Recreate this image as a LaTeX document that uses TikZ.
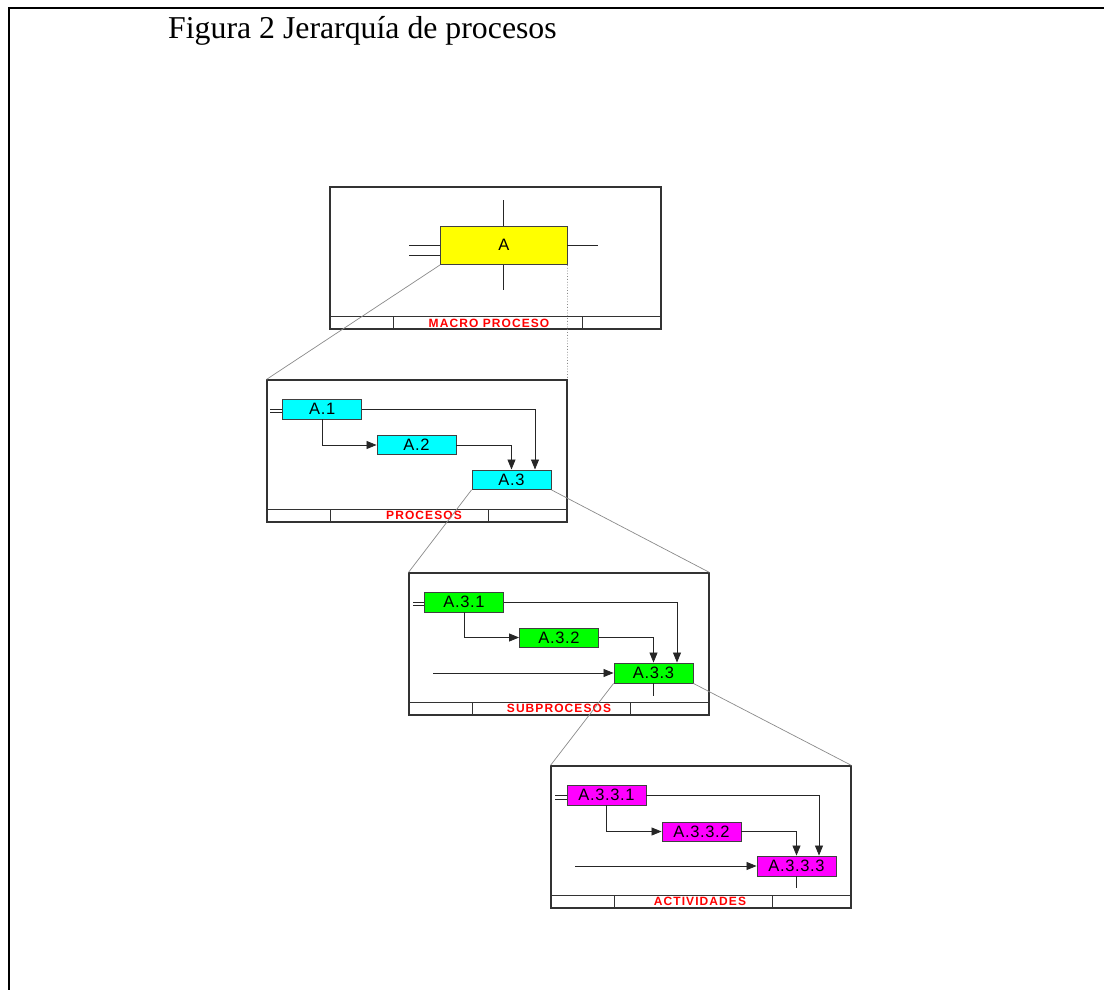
\documentclass[tikz,border=0pt]{standalone}
\usepackage{fontspec}
\setmainfont{Liberation Serif}
\newfontfamily\boxfont[LetterSpace=4]{Liberation Sans}
\newfontfamily\tagfont[LetterSpace=9]{Liberation Sans}
\usetikzlibrary{arrows.meta}
\definecolor{procyellow}{HTML}{FFFF00}
\definecolor{proccyan}{HTML}{00FFFF}
\definecolor{procgreen}{HTML}{00FF00}
\definecolor{procmagenta}{HTML}{FF00FF}
\definecolor{tagred}{HTML}{FF0000}
\definecolor{linkgray}{HTML}{8A8A8A}
\begin{document}
\begin{tikzpicture}[x=1pt,y=-1pt,
  frame/.style={draw=black!80, line width=1.1pt, inner sep=0pt, minimum width=300, minimum height=142},
  pbox/.style={draw=black!75, line width=0.9pt, inner sep=0pt, minimum width=79, minimum height=20,
               font=\boxfont\fontsize{16.5}{16.5}\selectfont},
  tag/.style={text=tagred, inner sep=0pt, font=\tagfont\bfseries\fontsize{12}{12}\selectfont},
  strip/.style={draw=black!80, line width=0.9pt},
  flow/.style={draw=black!85, line width=0.8pt},
  arr/.style={flow, -{Triangle[length=10pt,width=8pt]}},
  link/.style={draw=linkgray, line width=0.7pt},
  dotlink/.style={draw=linkgray, line width=0.8pt, dotted}]
\useasboundingbox (0,0) rectangle (1104,990);

% page frame (top and left edges)
\draw[line width=2.4pt] (9,990) -- (9,8) -- (1104,8);

% caption
\node[anchor=base west, inner sep=0pt, font=\fontsize{31.8}{31.8}\selectfont] (title) at (168,38.3) {Figura 2 Jerarquía de procesos};

% ---------- macro process ----------
\node[frame, minimum width=331] (macro) at (495.5,258) {};
\draw[strip] (330,316.5) -- (661,316.5) (393,316.5) -- (393,329) (582.5,316.5) -- (582.5,329);
\node[tag] (tmacro) at (489,323) {MACRO PROCESO};
\node[pbox, fill=procyellow, minimum width=126.5, minimum height=38.5] (a) at (503.75,245.25) {A};
\draw[flow] (a.north) -- ++(0,-25.5);
\draw[flow] (a.south) -- ++(0,25.5);
\draw[flow] (a.east) -- ++(31,0);
\draw[flow] ([yshift=0.25pt]a.west) -- ++(-31,0);
\draw[flow] ([yshift=-9.75pt]a.west) -- ++(-31,0);

% ---------- processes ----------
\node[frame] (proc) at (417,451) {};
\draw[strip] (267,509) -- (567,509) (330,509) -- (330,522) (488,509) -- (488,522);
\node[tag] (tproc) at (424,515.5) {PROCESOS};
\node[pbox, fill=proccyan] (a1) at (322.2,409) {A.1};
\node[pbox, fill=proccyan, minimum height=19] (a2) at (416.5,445) {A.2};
\node[pbox, fill=proccyan, minimum height=19.5] (a3) at (511.5,479.7) {A.3};
\draw[flow] ([yshift=-0.6pt]a1.west) -- ++(-12.5,0);
\draw[flow] ([yshift=-3.8pt]a1.west) -- ++(-12.5,0);
\draw[arr] (a1.east) -| ([xshift=23.5pt]a3.north);
\draw[arr] (a1.south) |- (a2.west);
\draw[arr] (a2.east) -| (a3.north);

% ---------- subprocesses ----------
\node[frame] (sub) at (559,644) {};
\draw[strip] (409,702) -- (709,702) (472,702) -- (472,715) (630,702) -- (630,715);
\node[tag] (tsub) at (559,708.5) {SUBPROCESOS};
\node[pbox, fill=procgreen] (a31) at (464,602) {A.3.1};
\node[pbox, fill=procgreen, minimum height=19] (a32) at (559,637.5) {A.3.2};
\node[pbox, fill=procgreen] (a33) at (653.5,673) {A.3.3};
\draw[flow] ([yshift=-0.6pt]a31.west) -- ++(-11.5,0);
\draw[flow] ([yshift=-3.6pt]a31.west) -- ++(-11.5,0);
\draw[arr] (a31.east) -| ([xshift=23.5pt]a33.north);
\draw[arr] (a31.south) |- (a32.west);
\draw[arr] (a32.east) -| (a33.north);
\coordinate (in33) at (433,673);
\draw[arr] (in33) -- (a33.west);
\draw[flow] (a33.south) -- ++(0,13);

% ---------- activities ----------
\node[frame] (act) at (701,837) {};
\draw[strip] (551,895) -- (851,895) (614,895) -- (614,908) (772,895) -- (772,908);
\node[tag] (tact) at (700,901.5) {ACTIVIDADES};
\node[pbox, fill=procmagenta] (a331) at (606.5,795) {A.3.3.1};
\node[pbox, fill=procmagenta, minimum height=19] (a332) at (701.5,831.5) {A.3.3.2};
\node[pbox, fill=procmagenta] (a333) at (796.5,866) {A.3.3.3};
\draw[flow] ([yshift=-0.7pt]a331.west) -- ++(-12,0);
\draw[flow] ([yshift=-3.9pt]a331.west) -- ++(-12,0);
\draw[arr] (a331.east) -| ([xshift=22.5pt]a333.north);
\draw[arr] (a331.south) |- (a332.west);
\draw[arr] (a332.east) -| (a333.north);
\coordinate (in333) at (575,866);
\draw[arr] (in333) -- (a333.west);
\draw[flow] (a333.south) -- ++(0,12);

% ---------- links between levels ----------
\draw[link] (a.south west) -- (proc.north west);
\draw[dotlink] (a.south east) -- (proc.north east);
\draw[link] (a3.south west) -- (sub.north west);
\draw[link] (a3.south east) -- (sub.north east);
\draw[link] (a33.south west) -- (act.north west);
\draw[link] (a33.south east) -- (act.north east);
\end{tikzpicture}
\end{document}
